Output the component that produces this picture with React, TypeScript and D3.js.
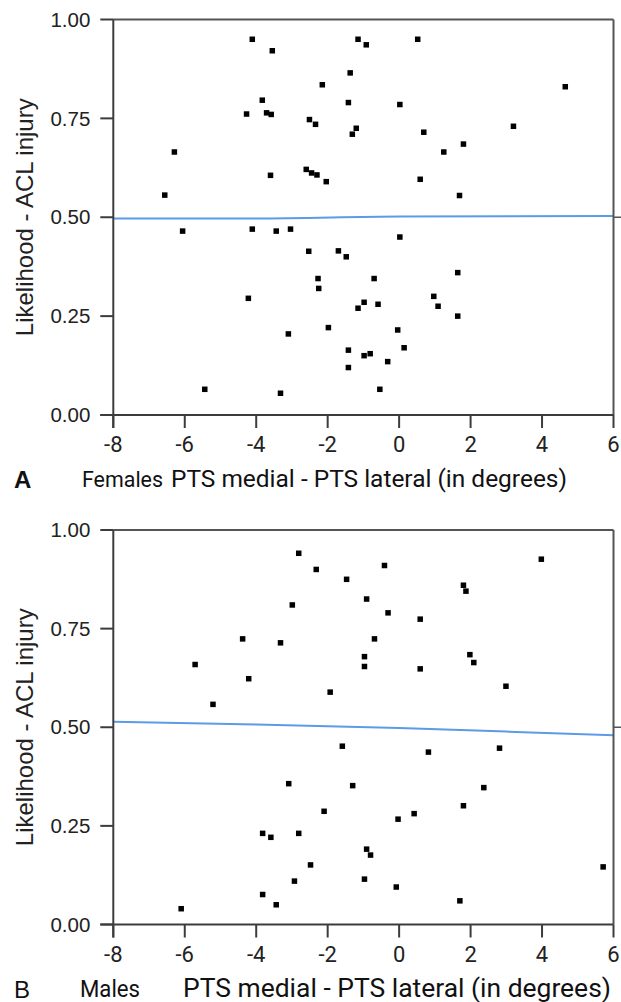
import React from "react";
import * as d3 from "d3";

// Panel A - females: [PTS medial - PTS lateral, likelihood]
const femalesX = [
  -4.11, -3.55, -3.83, -4.27, -3.71, -3.58, -2.51, -2.34, -6.29, -3.6, -2.6, -2.45, -2.3, -6.56,
  -1.15, -0.92, 0.52, -1.37, -2.15, -1.42, 0.02, 4.65, -1.2, -1.31, 0.69, 3.2, 1.8, 1.25, -2.04,
  0.59, 1.69, -6.06, -4.11, -3.44, -3.04, -2.53, -2.27, -2.25, -4.22, -3.1, -5.44, -3.32, 0.02,
  -1.7, -1.48, -0.7, 1.64, -0.98, -1.15, -0.59, 0.97, 1.09, 1.64, -1.98, -0.04, -1.42, -0.98,
  -0.81, 0.14, -0.32, -1.42, -0.54,
];
const femalesY = [
  0.95, 0.921, 0.796, 0.761, 0.764, 0.76, 0.747, 0.735, 0.665, 0.606, 0.621, 0.612, 0.607, 0.556,
  0.95, 0.936, 0.95, 0.865, 0.835, 0.79, 0.785, 0.83, 0.725, 0.71, 0.715, 0.73, 0.685, 0.665, 0.59,
  0.596, 0.555, 0.465, 0.47, 0.465, 0.47, 0.414, 0.345, 0.32, 0.295, 0.205, 0.065, 0.055, 0.45,
  0.415, 0.4, 0.345, 0.36, 0.285, 0.27, 0.28, 0.3, 0.275, 0.25, 0.221, 0.215, 0.164, 0.15,
  0.155, 0.17, 0.135, 0.12, 0.065,
];
// fitted curve
const femalesFitX = [-8, -4, 0, 6];
const femalesFitY = [0.497, 0.497, 0.502, 0.503];

// Panel B - males
const malesX = [
  -2.81, -2.32, -2.99, -4.38, -3.32, -5.71, -4.21, -5.21, -1.47, -0.41, 3.98, 1.8, 1.87, -0.91,
  -0.31, 0.59, -0.69, -0.97, -0.97, 0.59, 1.98, 2.09, 2.99, -1.93, -3.09, -3.82, -3.59, -2.81,
  -2.48, -2.93, -3.82, -3.44, -6.1, -1.59, 0.82, 2.81, -1.3, 2.37, -2.1, 1.8, -0.03, 0.42,
  -0.91, -0.8, -0.97, -0.08, 5.71, 1.7,
];
const malesY = [
  0.941, 0.9, 0.81, 0.724, 0.714, 0.659, 0.623, 0.558, 0.875, 0.91, 0.926, 0.86, 0.845, 0.825,
  0.79, 0.774, 0.724, 0.679, 0.654, 0.648, 0.684, 0.664, 0.604, 0.589, 0.357, 0.231, 0.221, 0.231,
  0.151, 0.11, 0.076, 0.05, 0.04, 0.452, 0.437, 0.447, 0.352, 0.347, 0.287, 0.301, 0.267, 0.281,
  0.191, 0.176, 0.115, 0.095, 0.146, 0.06,
];
const malesFitX = [-8, -4, 0, 3, 6];
const malesFitY = [0.514, 0.507, 0.498, 0.489, 0.48];

const xTicks = [-8, -6, -4, -2, 0, 2, 4, 6];
const yTicks = [0, 0.25, 0.5, 0.75, 1];

const sansFont = "'Liberation Sans', Arial, sans-serif";
const humanFont = "Roboto, 'Open Sans', sans-serif";
const axisColor = "#3c3c3c";

type PanelProps = {
  xs: number[];
  ys: number[];
  fitX: number[];
  fitY: number[];
  top: number;
  bottom: number;
  letter: string;
  letterBold: boolean;
  group: string;
  groupX: number;
  groupLen: number;
  groupSize: number;
  titleX: number;
  titleLen: number;
  titleSize: number;
};

const Panel = ({xs, ys, fitX, fitY, top, bottom, letter, letterBold, group, groupX, groupLen, groupSize, titleX, titleLen, titleSize}: PanelProps) => {
  const left = 113.3, right = 613.5;
  const x = d3.scaleLinear().domain([-8, 6]).range([left, right]);
  const y = d3.scaleLinear().domain([0, 1]).range([bottom, top]);

  const line = d3.line<number>()
    .x((d, i) => x(fitX[i]))
    .y(d => y(d))
    .curve(d3.curveMonotoneX);

  const s = 5.5;
  const fmt = d3.format(".2f");

  return (
    <g>
      {/* fitted curve */}
      <path d={line(fitY) || ""} fill="none" stroke="#5b9be8" strokeWidth={2} />

      {xs.map((v, i) => (
        <rect key={i} x={x(v) - s / 2} y={y(ys[i]) - s / 2} width={s} height={s} fill="#000" />
      ))}

      {/* frame */}
      <line x1={left} x2={right} y1={top} y2={top} stroke="#555" strokeWidth={2} />
      <line x1={right} x2={right} y1={top} y2={bottom} stroke="#555" strokeWidth={2} />
      <line x1={right} x2={right + 8} y1={y(0.5)} y2={y(0.5)} stroke="#555" strokeWidth={1.5} />
      <line x1={left} x2={left} y1={top} y2={bottom + 13} stroke={axisColor} strokeWidth={2} />
      <line x1={left - 13} x2={right} y1={bottom} y2={bottom} stroke={axisColor} strokeWidth={2} />

      {yTicks.map(t => (
        <g key={t}>
          <line x1={left - 13} x2={left} y1={y(t)} y2={y(t)} stroke={axisColor} strokeWidth={2} />
          <text x={left - 23} y={y(t)} dy="0.35em" textAnchor="end"
                fontFamily={sansFont} fontSize={20.5} fill="#222">{fmt(t)}</text>
        </g>
      ))}
      {xTicks.map(t => (
        <g key={t}>
          <line x1={x(t)} x2={x(t)} y1={bottom} y2={bottom + 13} stroke={axisColor} strokeWidth={2} />
          <text x={x(t)} y={bottom + 37} textAnchor="middle"
                fontFamily={humanFont} fontSize={22} fill="#222">{t}</text>
        </g>
      ))}

      <text transform={`translate(33,${(top + bottom) / 2}) rotate(-90)`} textAnchor="middle"
            fontFamily={sansFont} fontSize={24} fill="#222">Likelihood - ACL injury</text>

      <text x={14} y={bottom + 73} fontFamily={sansFont} fontSize={24}
            fontWeight={letterBold ? "bold" : "normal"} fill="#111">{letter}</text>
      <text x={groupX} y={bottom + 72} fontFamily={humanFont} fontSize={groupSize}
            textLength={groupLen} lengthAdjust="spacingAndGlyphs" fill="#111">{group}</text>
      <text x={titleX} y={bottom + 72} fontFamily={humanFont} fontSize={titleSize}
            textLength={titleLen} lengthAdjust="spacingAndGlyphs" fill="#111">
        PTS medial - PTS lateral (in degrees)
      </text>
    </g>
  );
};

export default function App() {
  return (
    <svg width={621} height={1002} style={{position: "absolute", left: 0, top: 0, background: "#fff"}}>
      <Panel xs={femalesX} ys={femalesY} fitX={femalesFitX} fitY={femalesFitY}
             top={19.5} bottom={415} letter="A" letterBold={true}
             group="Females" groupX={82} groupLen={81} groupSize={22.5}
             titleX={171} titleLen={396} titleSize={23} />
      <Panel xs={malesX} ys={malesY} fitX={malesFitX} fitY={malesFitY}
             top={530} bottom={924.5} letter="B" letterBold={false}
             group="Males" groupX={80} groupLen={60} groupSize={24}
             titleX={183} titleLen={428} titleSize={25} />
    </svg>
  );
}
